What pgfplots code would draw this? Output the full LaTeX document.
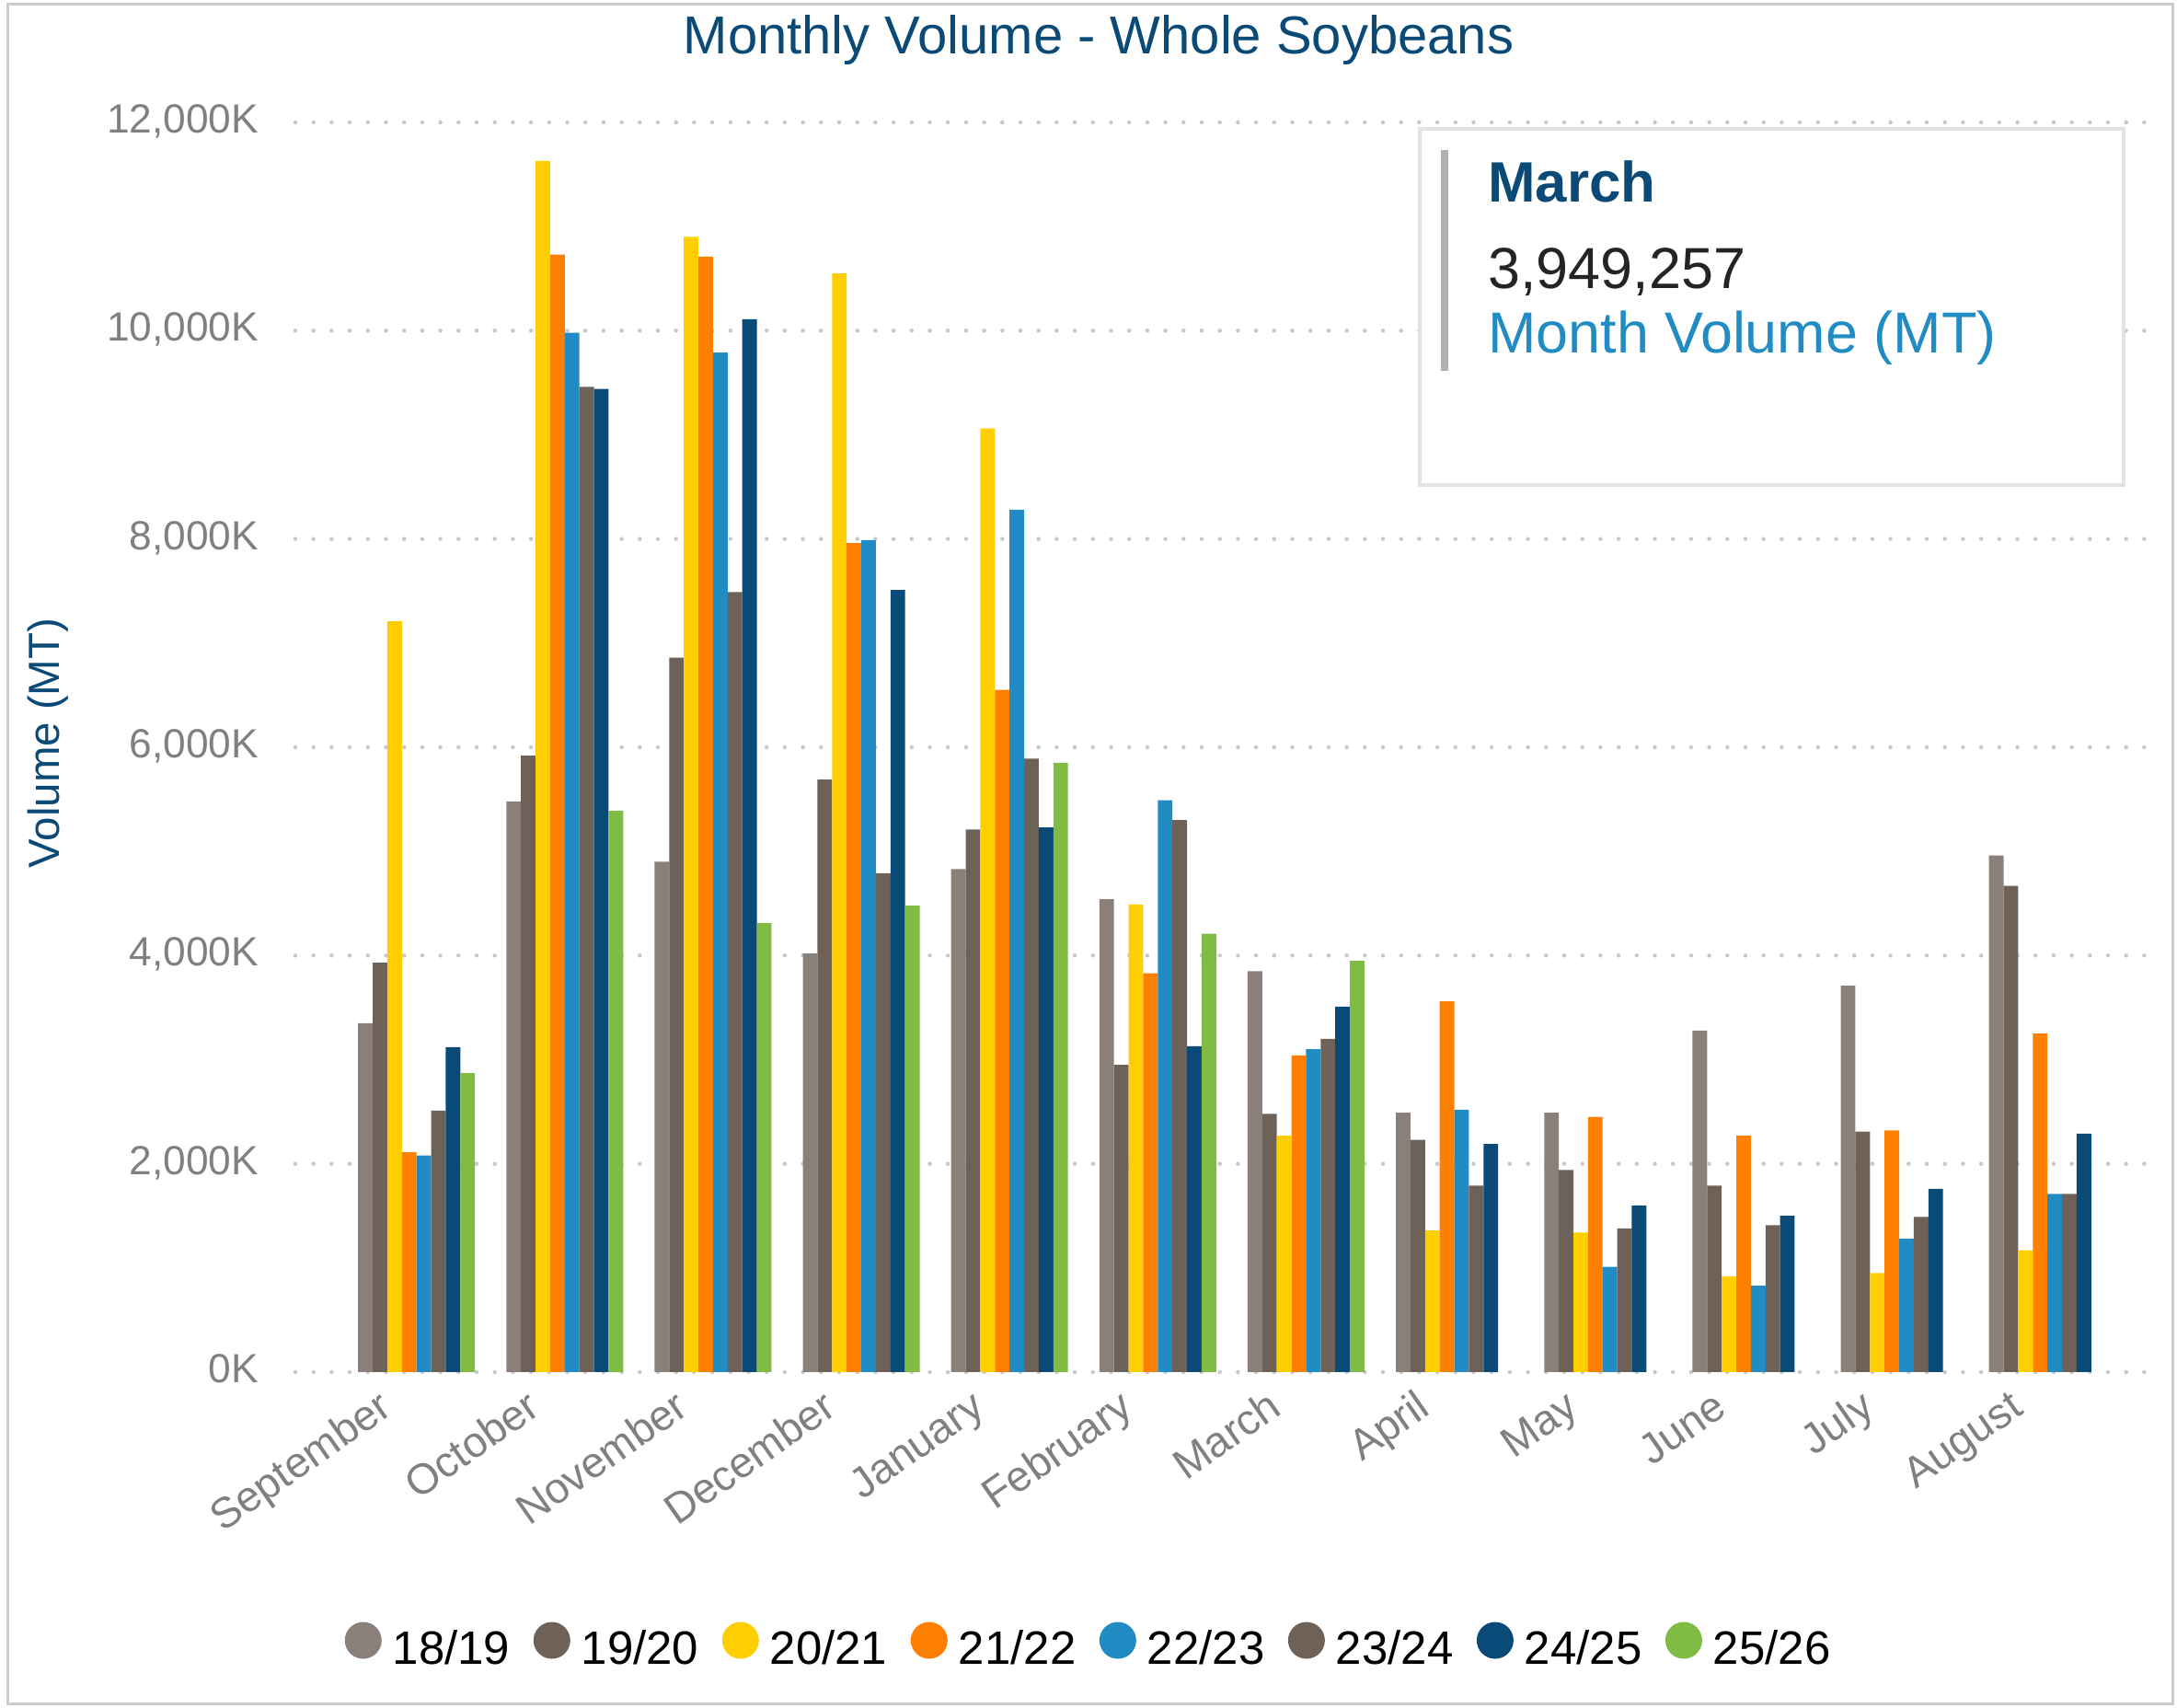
\documentclass[border=0pt]{standalone}
\usepackage{fontspec}
\setmainfont{Liberation Sans}
\usepackage{pgfplots}
\pgfplotsset{compat=1.18}

\definecolor{c1}{HTML}{8B7F79}
\definecolor{c2}{HTML}{6D6158}
\definecolor{c3}{HTML}{FFCE00}
\definecolor{c4}{HTML}{FF8000}
\definecolor{c5}{HTML}{218BC3}
\definecolor{c6}{HTML}{6D6158}
\definecolor{c7}{HTML}{0A4A77}
\definecolor{c8}{HTML}{80BC43}
\definecolor{titleblue}{HTML}{0B4A76}
\definecolor{tickgray}{HTML}{808080}
\definecolor{gridgray}{HTML}{C8C8C8}
\definecolor{bordergray}{HTML}{CCCCCC}
\definecolor{boxgray}{HTML}{E3E3E3}
\definecolor{bargray}{HTML}{B3B0AD}
\definecolor{numblack}{HTML}{252423}

\begin{document}
\begin{tikzpicture}
\useasboundingbox (0,0) rectangle (236.6mm,185.6mm);
\draw[draw=bordergray, line width=0.3mm] (0.85mm,0.4mm) rectangle (236.1mm,185.15mm);

\node[anchor=base, inner sep=0pt, text=titleblue, font=\fontsize{16.5pt}{18pt}\selectfont]
  at (119.4mm,179.77mm) {Monthly Volume - Whole Soybeans};

\node[rotate=90, anchor=base, inner sep=0pt, text=titleblue, font=\fontsize{13.5pt}{16pt}\selectfont]
  at (6.5mm,104.85mm) {Volume (MT)};

\begin{axis}[
  at={(32.1mm,36.5mm)}, anchor=south west,
  width=202.5mm, height=135.8mm, scale only axis,
  xmin=-0.817, xmax=11.75, ymin=0, ymax=12000,
  axis line style={draw=none},
  major tick length=0pt,
  scaled y ticks=false,
  ybar=0pt, bar width=0.0985,
  ymajorgrids=true,
  grid style={gridgray, line width=0.45mm, line cap=round, dash pattern=on 0pt off 1.97mm},
  ytick={0,2000,4000,6000,8000,10000,12000},
  yticklabels={0K,{2,000K},{4,000K},{6,000K},{8,000K},{10,000K},{12,000K}},
  yticklabel style={anchor=base east, inner sep=0pt, xshift=-3.93mm, yshift=-1.15mm,
    text=tickgray, font=\fontsize{12.6pt}{14pt}\selectfont},
  xtick={0,1,2,3,4,5,6,7,8,9,10,11},
  xticklabels={September,October,November,December,January,February,March,April,May,June,July,August},
  xticklabel style={xshift=-2.4mm, yshift=-4.4mm, rotate=35, anchor=base east, inner sep=0pt,
    text=tickgray, font=\fontsize{13.2pt}{15pt}\selectfont},
  every axis plot post/.append style={draw=none,
    legend image code/.code={\fill (2mm,0.28em) circle (2mm);}},
  legend columns=8,
  legend style={at={(0.0262,-0.2187)}, anchor=west, draw=none, fill=none, inner sep=0pt,
    font=\fontsize{14.5pt}{16pt}\selectfont, text=black,
    nodes={inner sep=0pt},
    /tikz/every odd column/.append style={column sep=1.2mm},
    /tikz/every even column/.append style={column sep=2.55mm}},
  legend cell align=left,
]
\addplot[fill=c1] coordinates {(0,3350) (1,5480) (2,4900) (3,4020) (4,4830) (5,4540) (6,3850) (7,2490) (8,2490) (9,3280) (10,3710) (11,4960)};
\addplot[fill=c2] coordinates {(0,3930) (1,5920) (2,6860) (3,5690) (4,5210) (5,2950) (6,2480) (7,2230) (8,1940) (9,1790) (10,2310) (11,4670)};
\addplot[fill=c3] coordinates {(0,7210) (1,11630) (2,10900) (3,10550) (4,9060) (5,4490) (6,2270) (7,1360) (8,1340) (9,920) (10,950) (11,1170)};
\addplot[fill=c4] coordinates {(0,2110) (1,10730) (2,10710) (3,7960) (4,6550) (5,3830) (6,3040) (7,3560) (8,2450) (9,2270) (10,2320) (11,3250)};
\addplot[fill=c5] coordinates {(0,2080) (1,9980) (2,9790) (3,7990) (4,8280) (5,5490) (6,3100) (7,2520) (8,1010) (9,830) (10,1280) (11,1710)};
\addplot[fill=c6] coordinates {(0,2510) (1,9460) (2,7490) (3,4790) (4,5890) (5,5300) (6,3200) (7,1790) (8,1380) (9,1410) (10,1490) (11,1710)};
\addplot[fill=c7] coordinates {(0,3120) (1,9440) (2,10110) (3,7510) (4,5230) (5,3130) (6,3510) (7,2190) (8,1600) (9,1500) (10,1760) (11,2290)};
\addplot[fill=c8] coordinates {(0,2870) (1,5390) (2,4310) (3,4480) (4,5850) (5,4210) (6,3949.257)};
\legend{18/19,19/20,20/21,21/22,22/23,23/24,24/25,25/26}
\end{axis}

\fill[white, draw=boxgray, line width=0.4mm] (154.3mm,132.9mm) rectangle (230.8mm,171.6mm);
\fill[bargray] (156.6mm,145.3mm) rectangle (157.4mm,169.3mm);
\node[anchor=base west, inner sep=0pt, text=titleblue, font=\fontsize{17.6pt}{20pt}\selectfont\bfseries]
  at (161.65mm,163.6mm) {March};
\node[anchor=base west, inner sep=0pt, text=numblack, font=\fontsize{17.9pt}{20pt}\selectfont]
  at (161.65mm,154.2mm) {3,949,257};
\node[anchor=base west, inner sep=0pt, text=c5, font=\fontsize{17.9pt}{20pt}\selectfont]
  at (161.65mm,147.2mm) {Month Volume (MT)};
\end{tikzpicture}
\end{document}
